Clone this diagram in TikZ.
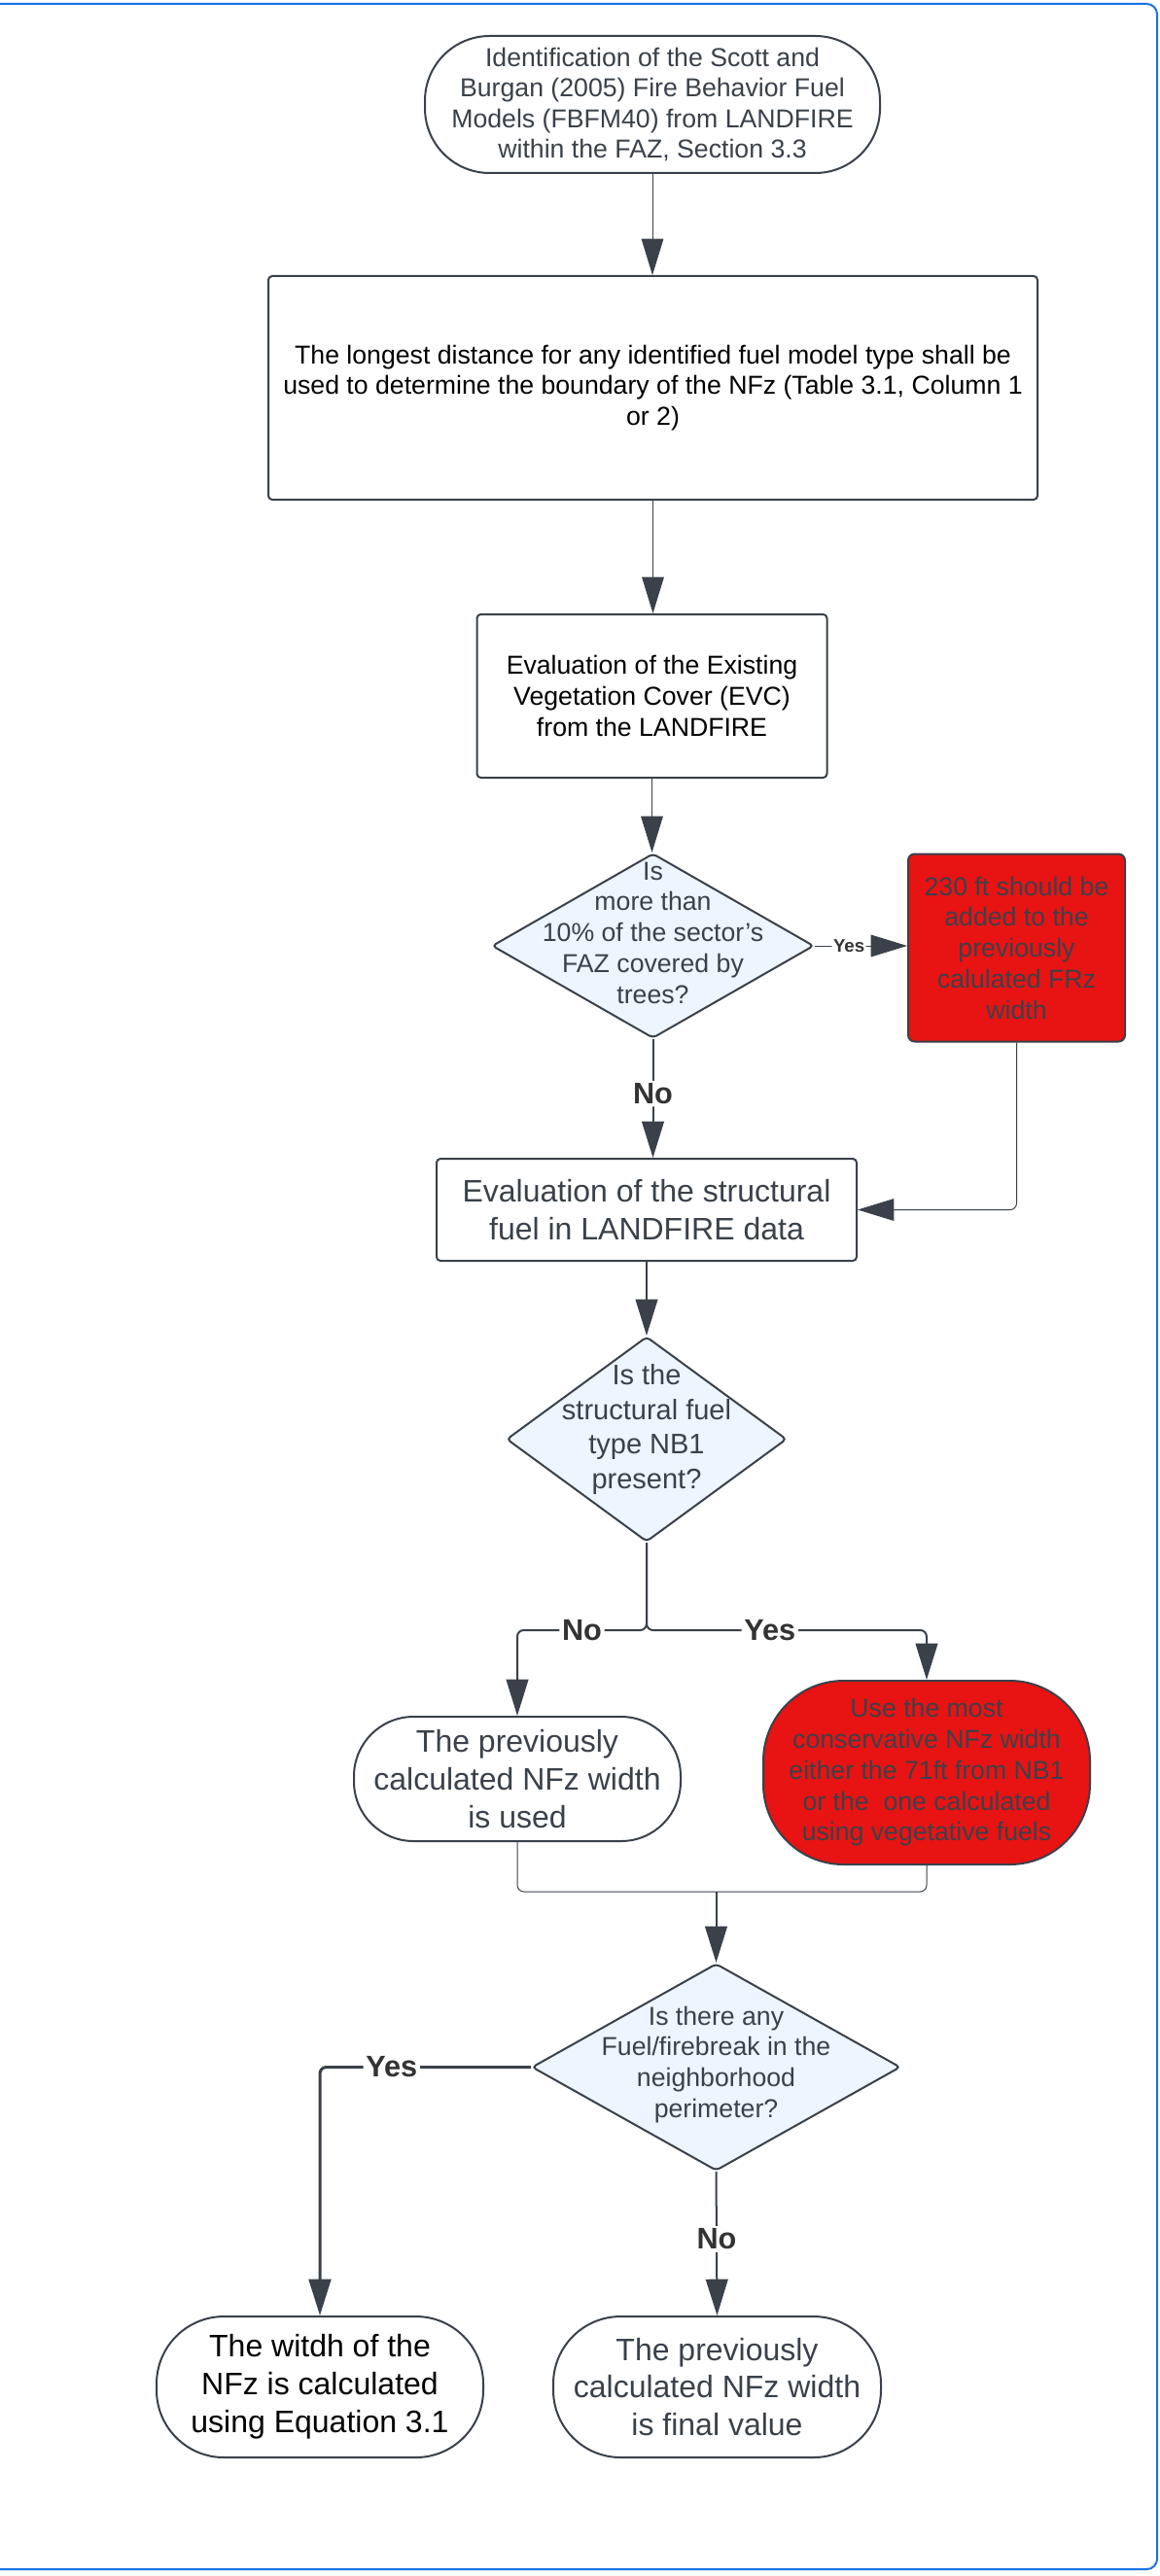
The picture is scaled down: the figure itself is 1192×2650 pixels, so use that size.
\documentclass[tikz,border=0pt]{standalone}
\usepackage{fontspec}
\setmainfont{Liberation Sans}
\usetikzlibrary{shapes.geometric, arrows.meta}

\definecolor{linegray}{HTML}{3A414A}
\definecolor{decisionblue}{HTML}{EDF5FF}
\definecolor{alertred}{HTML}{E81313}
\definecolor{pageblue}{HTML}{1A73E8}
\definecolor{labelgray}{HTML}{333333}

\begin{document}
\begin{tikzpicture}[
  x=0.75pt, y=-0.75pt, % pixel grid, y pointing down
  terminal/.style={rectangle, rounded corners=46pt, draw=linegray, line width=1.5pt, align=center, text=linegray, font=\fontsize{24}{29.2}\selectfont}, % start / end shapes
  process/.style={rectangle, rounded corners=3pt, draw=linegray, line width=1.5pt, align=center, text=black, font=\fontsize{20}{23.8}\selectfont}, % plain steps
  decision/.style={diamond, rounded corners=3pt, draw=linegray, line width=1.5pt, fill=decisionblue, inner sep=0pt}, % questions
  question/.style={align=center, text=linegray, font=\fontsize{20}{23.8}\selectfont},
  flow/.style={draw=linegray, line width=1.5pt, rounded corners=5pt, -{Triangle[length=28pt, width=17pt]}},
  thinflow/.style={flow, line width=0.75pt},
  answer/.style={fill=white, inner sep=2pt, text=labelgray, font=\bfseries\fontsize{23}{27}\selectfont} % Yes / No
]
\useasboundingbox (0,0) rectangle (1192,2650);

% Page frame
\draw[pageblue, line width=1.5pt, rounded corners=8pt] (0,4) -- (1190,4) -- (1190,2643) -- (0,2643);

% Start
\node[terminal, rounded corners=50pt, minimum width=351pt, minimum height=105.75pt, font=\fontsize{20}{23.6}\selectfont] (fbfm) at (671,107.5) {Identification of the Scott and\\Burgan (2005) Fire Behavior Fuel\\Models (FBFM40) from LANDFIRE\\within the FAZ, Section 3.3};

% Vegetation part
\node[process, minimum width=593.25pt, minimum height=172.5pt] (longest) at (671.5,399) {The longest distance for any identified fuel model type shall be\\used to determine the boundary of the NFz (Table 3.1, Column 1\\or 2)};
\node[process, minimum width=270pt, minimum height=126pt] (evc) at (670.5,716) {Evaluation of the Existing\\Vegetation Cover (EVC)\\from the LANDFIRE};
\node[decision, minimum width=248.25pt, minimum height=142.5pt,
  label={[question, yshift=10pt]center:{Is\\more than\\10\% of the sector’s\\FAZ covered by\\trees?}}] (trees) at (671.5,973) {};
\node[process, fill=alertred, text=linegray, rounded corners=5pt, minimum width=167.25pt, minimum height=144.75pt] (addft) at (1045.5,975) {230 ft should be\\added to the\\previously\\calulated FRz\\width};

% Structural fuel part
\node[process, text=linegray, minimum width=324pt, minimum height=78.75pt, font=\fontsize{24}{29.2}\selectfont] (structural) at (665,1244.5) {Evaluation of the structural\\fuel in LANDFIRE data};
\node[decision, minimum width=216pt, minimum height=158.25pt,
  label={[question, yshift=7.5pt, font=\fontsize{21.75}{26.6}\selectfont]center:{Is the\\structural fuel\\type NB1\\present?}}] (nbone) at (665,1480.5) {};
\coordinate (fork) at (665,1677);
\node[terminal, minimum width=252pt, minimum height=96pt] (prevused) at (532,1830) {The previously\\calculated NFz width\\is used};
\node[terminal, fill=alertred, rounded corners=62pt, minimum width=252pt, minimum height=141.75pt, font=\fontsize{20}{23.8}\selectfont] (conservative) at (953,1823.5) {Use the most\\conservative NFz width\\either the 71ft from NB1\\or the~ one calculated\\using vegetative fuels};

% Firebreak part
\coordinate (merge) at (736.5,1946);
\node[decision, minimum width=284.25pt, minimum height=159.75pt,
  label={[question, yshift=2pt]center:{Is there any\\Fuel/firebreak in the\\neighborhood\\perimeter?}}] (firebreak) at (736.5,2126.5) {};
\node[terminal, rounded corners=52pt, text=black, minimum width=252pt, minimum height=108.75pt] (equation) at (329,2455.5) {The witdh of the\\NFz is calculated\\using Equation 3.1};
\node[terminal, rounded corners=52pt, minimum width=252.75pt, minimum height=108.75pt] (final) at (737.5,2455.5) {The previously\\calculated NFz width\\is final value};

% Connectors
\draw[thinflow] (fbfm.south) -- (fbfm.south |- longest.north);
\draw[thinflow] (longest.south) -- (longest.south |- evc.north);
\draw[thinflow] (evc.south) -- (evc.south |- trees.north);
\draw[thinflow] (trees.east) -- node[answer, inner sep=1pt, font=\bfseries\fontsize{14}{16}\selectfont, pos=0.37] {Yes} (trees.east -| addft.west);
\draw[flow] (trees.south) -- node[answer, pos=0.46] {No} (trees.south |- structural.north);
\draw[thinflow] (addft.south) |- (structural.east);
\draw[flow] (structural.south) -- (structural.south |- nbone.north);
\draw[flow] (nbone.south) -- (fork) -| node[answer, pos=0.25] {No} (prevused.north);
\draw[flow] (nbone.south) -- (fork) -| node[answer, pos=0.22] {Yes} (conservative.north);
\draw[thinflow, -] (prevused.south) |- (merge);
\draw[thinflow, -] (conservative.south) |- (merge);
\draw[flow] (merge) -- (firebreak.north);
\draw[flow, line width=2.25pt] (firebreak.west) -| node[answer, pos=0.33] {Yes} (equation.north);
\draw[flow] (firebreak.south) -- node[answer, pos=0.47] {No} (final.north);

\end{tikzpicture}
\end{document}
